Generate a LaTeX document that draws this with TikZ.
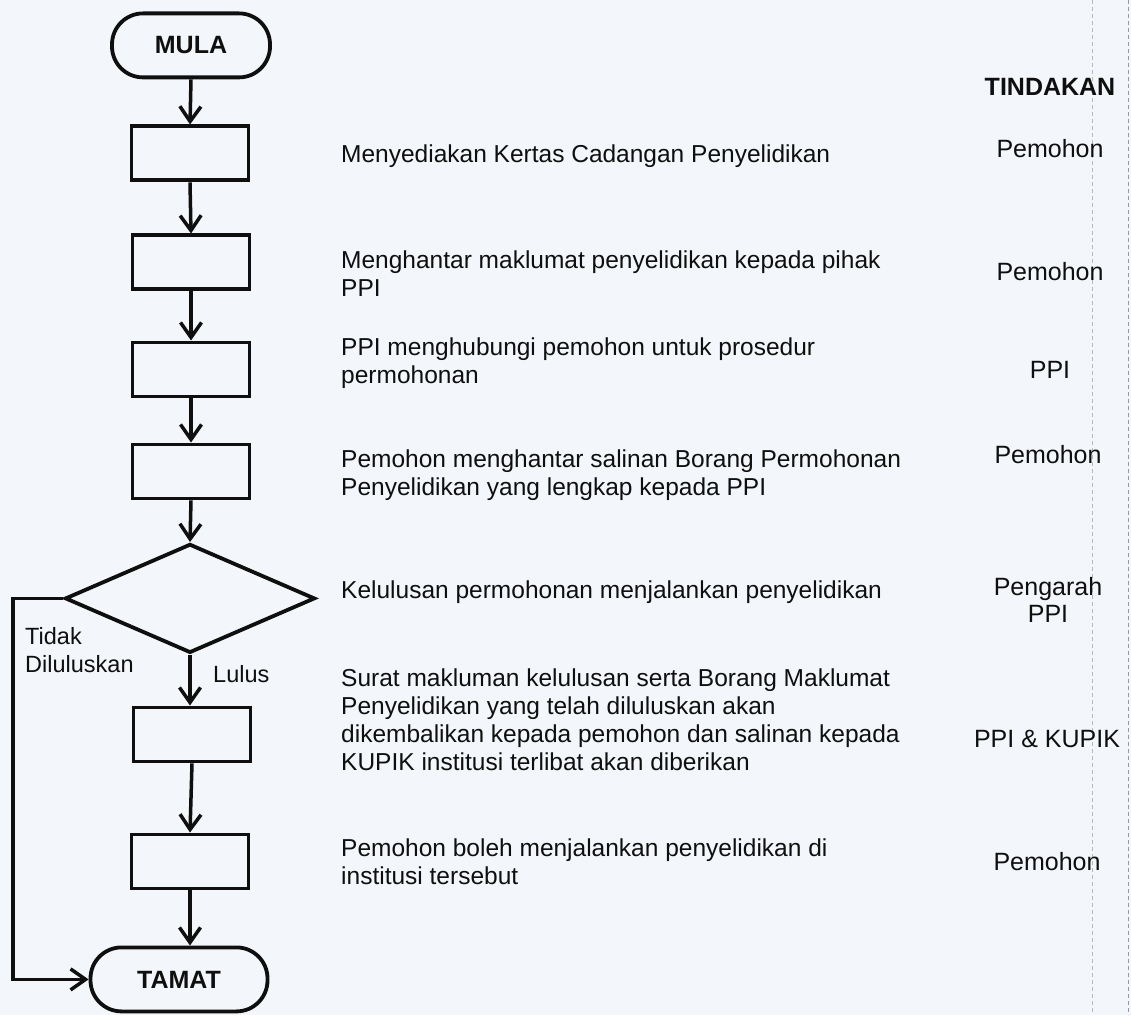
\documentclass[tikz,border=0pt]{standalone}
\usepackage{fontspec}
\setmainfont{Liberation Sans}
\usetikzlibrary{arrows.meta,shapes.geometric}
\definecolor{bg}{RGB}{243,246,250}
\definecolor{ink}{RGB}{15,15,15}
\begin{document}
\begin{tikzpicture}[x=1pt,y=-1pt,
  flow/.style={draw=ink,line width=3.8pt},
  box/.style={flow,rectangle,minimum width=117pt,minimum height=54pt,inner sep=0pt},
  term/.style={flow,rectangle,rounded corners=31pt,minimum height=64pt,inner sep=0pt,text=ink,font=\fontsize{25}{30}\selectfont\bfseries},
  conn/.style={draw=ink,line width=3.5pt,-{Straight Barb[length=15pt,width=21pt,line width=3.5pt]}},
  desc/.style={anchor=north west,inner sep=0pt,align=left,text=ink,font=\fontsize{24.5}{28}\selectfont},
  act/.style={inner sep=0pt,align=center,text=ink,font=\fontsize{25}{27}\selectfont},
  lbl/.style={inner sep=0pt,align=left,text=ink,font=\fontsize{23.5}{28}\selectfont},
  scanline/.style={draw=gray!55,line width=0.8pt,dash pattern=on 4pt off 3pt}
]
\fill[bg] (0,0) rectangle (1131,1015);
\draw[scanline] (1092,0) -- (1092,1015);
\draw[scanline,draw=gray!80] (1128,0) -- (1128,1015);

% flowchart shapes
\node[term,minimum width=158pt] (mula) at (191,45) {MULA};
\node[box] (b1) at (190,153) {};
\node[box] (b2) at (191,262) {};
\node[box] (b3) at (191,369) {};
\node[box] (b4) at (191,471) {};
\node[flow,diamond,minimum width=250pt,minimum height=109pt,inner sep=0pt] (dec) at (190,598) {};
\node[box] (b5) at (192,734) {};
\node[box] (b6) at (190,861) {};
\node[term,minimum width=177pt] (tamat) at (179,979) {TAMAT};

% connectors
\draw[conn] (mula.south) -- (b1.north);
\draw[conn] (b1.south) -- (b2.north);
\draw[conn] (b2.south) -- (b3.north);
\draw[conn] (b3.south) -- (b4.north);
\draw[conn] (b4.south) -- (dec.north);
\draw[conn] (dec.south) -- (dec.south |- b5.north);
\draw[conn] (b5.south) -- (b6.north);
\draw[conn] (b6.south) -- (b6.south |- tamat.north);
\coordinate (lx) at (13,598);
\draw[conn] (dec.west) -- (lx) |- (tamat.west);

% branch labels
\node[lbl,anchor=north west] (tidak) at (25,627) {Tidak\\Diluluskan};
\node[lbl,anchor=base west] (lulus) at (213,682) {Lulus};

% descriptions
\node[desc] (d1) at (341,144.2) {Menyediakan Kertas Cadangan Penyelidikan};
\node[desc] (d2) at (341,250.2) {Menghantar maklumat penyelidikan kepada pihak\\PPI};
\node[desc] (d3) at (341,337.2) {PPI menghubungi pemohon untuk prosedur\\permohonan};
\node[desc] (d4) at (341,449.2) {Pemohon menghantar salinan Borang Permohonan\\Penyelidikan yang lengkap kepada PPI};
\node[desc] (d5) at (341,580.2) {Kelulusan permohonan menjalankan penyelidikan};
\node[desc] (d6) at (341,668.2) {Surat makluman kelulusan serta Borang Maklumat\\Penyelidikan yang telah diluluskan akan\\dikembalikan kepada pemohon dan salinan kepada\\KUPIK institusi terlibat akan diberikan};
\node[desc] (d7) at (341,838.2) {Pemohon boleh menjalankan penyelidikan di\\institusi tersebut};

% actions
\node[act,anchor=base,font=\fontsize{25}{27}\selectfont\bfseries] (tind) at (1050,95) {TINDAKAN};
\node[act,anchor=base] (a1) at (1050,157) {Pemohon};
\node[act,anchor=base] (a2) at (1050,280) {Pemohon};
\node[act,anchor=base] (a3) at (1050,378) {PPI};
\node[act,anchor=base] (a4) at (1048,463) {Pemohon};
\node[act,anchor=north] (a5) at (1048,577) {Pengarah\\PPI};
\node[act,anchor=base] (a6) at (1047,747) {PPI \& KUPIK};
\node[act,anchor=base] (a7) at (1047,870) {Pemohon};
\end{tikzpicture}
\end{document}
